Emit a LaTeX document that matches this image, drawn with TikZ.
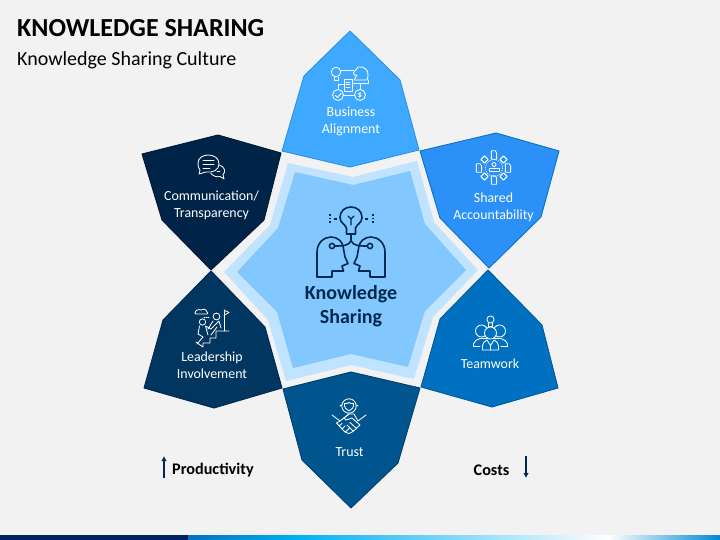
\documentclass[tikz,border=0pt]{standalone}
\usepackage{fontspec}
\setmainfont{Carlito}
\usetikzlibrary{arrows.meta,calc}
\definecolor{bg}{HTML}{F2F2F2}
\definecolor{cTop}{HTML}{3FA9FF}
\definecolor{sTop}{HTML}{2A90EE}
\definecolor{cShared}{HTML}{2B90F8}
\definecolor{sShared}{HTML}{0A72C4}
\definecolor{cTeam}{HTML}{0070C0}
\definecolor{sTeam}{HTML}{005A9E}
\definecolor{cTrust}{HTML}{00558F}
\definecolor{sTrust}{HTML}{003F70}
\definecolor{cLead}{HTML}{003660}
\definecolor{sLead}{HTML}{002A50}
\definecolor{cComm}{HTML}{002448}
\definecolor{sComm}{HTML}{001830}
\definecolor{cIn}{HTML}{82C8FF}
\definecolor{cOut}{HTML}{C0E3FF}
\definecolor{navy}{HTML}{002850}
\definecolor{barDark}{HTML}{002060}
\definecolor{barA}{HTML}{0070C0}
\definecolor{barB}{HTML}{00B0F0}
\tikzset{
 petal/.style={line width=0.9pt,line join=round},
 lbl/.style={text=white,font=\fontsize{13.9}{17}\selectfont,align=center,inner sep=0pt},
 ico/.style={draw=white,line width=0.85pt,line join=round,line cap=round},
 cico/.style={draw=navy,line width=1.6pt,line join=round,line cap=round},
 side/.style={text=black,font=\bfseries\fontsize{16.2}{18}\selectfont,inner sep=0pt},
 sidearrow/.style={draw=navy,line width=1.3pt,-{Latex[length=5pt,width=5.5pt]}}
}
\begin{document}
\begin{tikzpicture}[x=1pt,y=-1pt]
\useasboundingbox (0,0) rectangle (720,540);
\fill[bg] (0,0) rectangle (720,540);
% bottom bar
\fill[barDark] (0,535) rectangle (188,540);
\shade[left color=barA,right color=barB] (188,535) rectangle (295,540);
\shade[left color=barB,right color=white] (295,535) rectangle (608,540);
\shade[left color=white,right color=barA!60!barB] (608,535) rectangle (720,540);
% title
\node[anchor=west,inner sep=0pt,font=\bfseries\fontsize{26}{30}\selectfont,text=black] (title) at (17,28.5) {KNOWLEDGE SHARING};
\node[anchor=west,inner sep=0pt,font=\fontsize{20}{24}\selectfont,text=black] (subtitle) at (17,60) {Knowledge Sharing Culture};
% star
\fill[cOut] (353,177) -- (417,161) -- (434,222) -- (478,270) -- (433,317) -- (414,379) -- (351,365) -- (286,381) -- (268,320) -- (224,272) -- (270,225) -- (288,163) -- cycle;
\fill[cIn] (353,185) -- (410,171) -- (425,224) -- (466,270) -- (425,311) -- (408,367) -- (351,354) -- (293,368) -- (277,312) -- (237,272) -- (278,228) -- (295,172) -- cycle;
% petals
\filldraw[petal,fill=cTop,draw=sTop] (350,31) -- (400,80) -- (419,150) -- (350,167) -- (282,151) -- (304,76) -- cycle;
\filldraw[petal,fill=cShared,draw=sShared] (496,133) -- (559,151) -- (541,217) -- (489,268) -- (440,218) -- (420,151) -- cycle;
\filldraw[petal,fill=cTeam,draw=sTeam] (488,270) -- (542,325) -- (558,388) -- (492,407) -- (421,387) -- (440,319) -- cycle;
\filldraw[petal,fill=cTrust,draw=sTrust] (351,372) -- (420,388) -- (398,463) -- (351,508) -- (302,460) -- (283,389) -- cycle;
\filldraw[petal,fill=cLead,draw=sLead] (211,271) -- (265,327) -- (282,388) -- (214,408) -- (144,388) -- (163,320) -- cycle;
\filldraw[petal,fill=cComm,draw=sComm] (218,135) -- (281,153) -- (264,220) -- (211,270) -- (162,220) -- (142,154) -- cycle;
% labels
\node[lbl] (lTop) at (351,121) {Business\\Alignment};
\node[lbl] (lShared) at (493.5,207) {Shared\\Accountability};
\node[lbl] (lTeam) at (490,364) {Teamwork};
\node[lbl] (lTrust) at (349.5,452) {Trust};
\node[lbl] (lLead) at (212,365) {Leadership\\Involvement};
\node[lbl] (lComm) at (211.5,205.5) {Communication/\\Transparency};
\node[inner sep=0pt,align=center,text=navy,font=\bfseries\fontsize{20}{24}\selectfont] (lCenter) at (351,306.5) {Knowledge\\Sharing};
% side
\node[side,anchor=west] (prod) at (172,470.5) {Productivity};
\node[side,anchor=west] (cost) at (473.5,470.5) {Costs};
\coordinate (pA) at (164,478); \coordinate (pB) at (164,456);
\coordinate (cA) at (526,456); \coordinate (cB) at (526,478);
\draw[sidearrow] (pA) -- (pB);
\draw[sidearrow] (cA) -- (cB);
% centre icon
\draw[cico] (346.5,228) .. controls (345,224) and (340,223) .. (340,217.5) .. controls (340,211) and (345,207) .. (351,207) .. controls (357,207) and (362,211) .. (362,217.5) .. controls (362,223) and (357,224) .. (355.5,228) -- (355.5,234) -- (346.5,234) -- cycle;
\draw[cico,line width=1.3pt] (351,225) -- (351,219) (348,216) -- (351,219) -- (354,216);
\draw[cico] (351,234) -- (351,241);
\draw[cico] (334,246) .. controls (343,246) and (348,246) .. (351,241) .. controls (354,246) and (359,246) .. (368,246);
\filldraw[cico,fill=cIn] (332,246) circle[radius=2.6];
\filldraw[cico,fill=cIn] (370,246) circle[radius=2.6];
% left head
\draw[cico] (332,277) -- (317,277) -- (317,252) .. controls (317,243) and (324,237) .. (331,237) .. controls (337,237) and (342,241) .. (343,246) -- (345,257) -- (348,263.5) -- (342,266) -- (343.5,271) -- (332,271) -- cycle;
% right head
\draw[cico] (370,277) -- (385,277) -- (385,252) .. controls (385,243) and (378,237) .. (371,237) .. controls (365,237) and (360,241) .. (359,246) -- (357,257) -- (354,263.5) -- (360,266) -- (358.5,271) -- (370,271) -- cycle;
\draw[navy,line width=1.2pt,dash pattern=on 1.6pt off 2pt] (330,214) -- (330,224);
\draw[navy,line width=1.2pt,dash pattern=on 1.6pt off 2pt] (373,214) -- (373,224);
\draw[navy,line width=1.2pt] (334,219) -- (337,219) (365,219) -- (368,219);
% business icon
\draw[ico] (336,72) circle[radius=4.8];
\draw[ico] (334,77) -- (334,80.5) -- (338,80.5) -- (338,77);
\draw[ico] (341,70.5) -- (354,70.5);
\draw[ico] (354,80) -- (357,75) .. controls (355,76) and (353,75) .. (353.5,73) .. controls (354,71) and (356,70) .. (357,68.5) -- (358,67) .. controls (364,66) and (369,70) .. (368,76) -- (367,80) -- cycle;
\draw[ico] (353,83) -- (368,83) -- (368,80);
\draw[ico] (344,79) rectangle (352,91);
\draw[ico] (346,82) -- (350,82) (346,84.5) -- (350,84.5) (346,87) -- (350,87);
\draw[ico] (344,84) -- (338,84) -- (338,89.5);
\draw[ico] (338,95) circle[radius=5.5];
\draw[ico] (360,95) circle[radius=5.5];
\draw[ico] (343.5,95) -- (354.5,95) (360,89.5) -- (360,83.5);
\draw[ico] (335.5,95.5) -- (337.5,97.5) -- (341,93.5);
\node[text=white,inner sep=0pt,font=\bfseries\fontsize{8}{8}\selectfont] (dollar) at (360,95) {\$};
% shared icon
\foreach \px/\py in {484.5/159.5,503.5/159.5,484.5/176.5,503.5/176.5}{
 \draw[ico,line width=1.1pt] (\px,\py-3.6) -- (\px+3.6,\py) -- (\px,\py+3.6) -- (\px-3.6,\py) -- cycle;
}
\foreach \px/\py in {494/155,494/180,479/168,508/168}{
 \draw[ico] (\px-2.6,\py-4.2) -- (\px+1,\py-4.2) -- (\px+2.6,\py-2.4) -- (\px+2.6,\py+4.2) -- (\px-2.6,\py+4.2) -- cycle;
}
\draw[ico,line width=0.6pt,dash pattern=on 1pt off 1.2pt] (494,168) circle[radius=8.5];
\draw[ico] (494,164.5) circle[radius=2];
\draw[ico] (489,171.5) -- (489,168) -- (499,168) -- (499,171.5) -- cycle;
% comm icon
\draw[ico] (200,170) .. controls (198,167) and (198,165) .. (198,163) .. controls (198,158) and (203,155) .. (208,155) .. controls (214,155) and (219,158) .. (219,164) .. controls (219,170) and (213,173) .. (206,172) -- (199,174) -- cycle;
\draw[ico] (203,160) -- (214,160) (203,164) -- (214,164) (203,168) -- (210,168);
\draw[ico] (211,173.5) .. controls (213,176) and (217,177.5) .. (220,176.5) -- (224,179) -- (223,174.5) .. controls (226,172) and (225,167) .. (219.5,165);
\draw[ico] (217,171) -- (220,171);
% leadership icon
\draw[ico] (195,313) .. controls (195,310) and (199,309) .. (201,310) .. controls (203,308) and (206,309) .. (207,312) .. controls (208,313) and (208,314) .. (207,314) -- (196,314) -- cycle;
\draw[ico,dash pattern=on 1pt off 1.2pt] (204,317) -- (209,317);
\draw[ico] (202.5,322) circle[radius=3.2];
\draw[ico] (216.5,316.5) circle[radius=3.4];
\draw[ico] (224,310) -- (224,331);
\draw[ico] (224,310) -- (229,312.5) -- (224,315.5);
\draw[ico] (199.5,326) -- (198,334) -- (203,337) -- (197,344) (205.5,326) -- (208,335) (205.5,326) -- (211,329) -- (219,321) -- (221,328) (213,321) -- (208,329);
\draw[ico] (196,342) -- (203,347) -- (203,343) -- (210,343) -- (210,338) -- (216,338) -- (216,331) -- (229,331);
\draw[ico] (211,335) -- (217,327);
% teamwork icon
\draw[ico] (490.5,319.5) circle[radius=3.6];
\draw[ico] (488.5,323) -- (488.5,326.5) -- (492.5,326.5) -- (492.5,323);
\filldraw[ico,fill=cTeam] (481.5,331) circle[radius=6];
\filldraw[ico,fill=cTeam] (499.5,331) circle[radius=6];
\filldraw[ico,fill=cTeam] (473.5,346.5) -- (473.5,344) .. controls (474,341) and (477,339.5) .. (480,338.5) -- (501,338.5) .. controls (504,339.5) and (507,341) .. (507.5,344) -- (507.5,346.5) -- cycle;
\fill[cTeam] (479,340) rectangle (502,347.5);
\filldraw[ico,fill=cTeam] (490.5,333) circle[radius=6];
\filldraw[ico,fill=cTeam] (482.5,350) -- (482.5,345.5) .. controls (483,342.5) and (485,341) .. (487,340) -- (490.5,345.5) -- (494,340) .. controls (496,341) and (498,342.5) .. (498.5,345.5) -- (498.5,350) -- cycle;
\draw[ico] (490.5,345.5) -- (490.5,350);
\draw[ico] (473.5,346.5) -- (480,346.5) (501,346.5) -- (507.5,346.5);
% trust icon
\draw[ico] (349,406) circle[radius=7.2];
\draw[ico] (344.5,403.5) .. controls (347,404) and (348,403) .. (349,402.5) .. controls (350,403) and (351,404) .. (353.5,403.5) .. controls (354,407) and (352,410) .. (349,411) .. controls (346,410) and (344,407) .. (344.5,403.5) -- cycle;
\draw[ico] (341.5,405) -- (340,406) (356.5,405) -- (358,406);
\draw[ico] (332,415) -- (340,421) -- (349,414) (366,415) -- (358,421) -- (354,414);
\draw[ico] (354,414) -- (349,414) -- (344,418) -- (346,420) -- (352,418) -- (360,425) -- (353,431.5) -- (349,433.5) -- (345,432) -- (336.5,423) -- (340,421);
\draw[ico] (339,426) -- (342,423.5) (342,429) -- (345,426) (345.5,432) -- (349,428.5) (356,428) -- (350,422.5) (353,431) -- (347,425);
\end{tikzpicture}
\end{document}
